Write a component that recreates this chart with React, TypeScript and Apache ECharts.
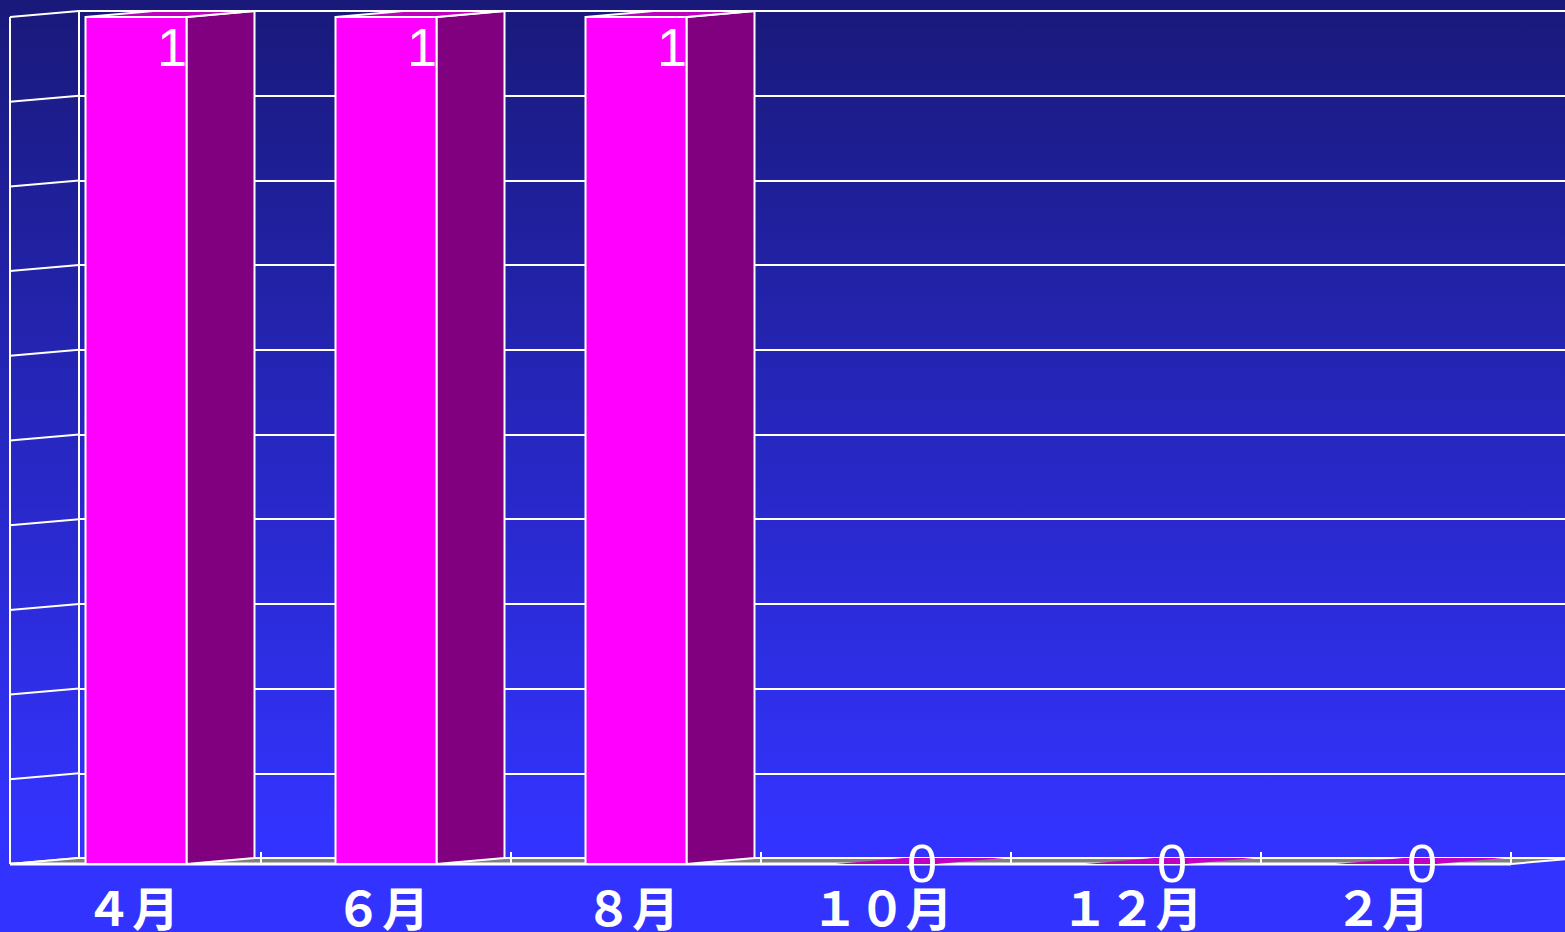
import React, { useEffect, useRef } from "react";
import * as echarts from "echarts";

const CATEGORIES = ["４月", "６月", "８月", "１０月", "１２月", "２月"];
const VALUES = [1, 1, 1, 0, 0, 0];
const Y_TICKS = [0, 0.1, 0.2, 0.3, 0.4, 0.5, 0.6, 0.7, 0.8, 0.9, 1];

const DX = 68;
const DY = -6;
const WHITE = "#ffffff";

export default function App() {
  const ref = useRef<HTMLDivElement>(null);
  useEffect(() => {
    if (!ref.current) return;
    const chart = echarts.init(ref.current, undefined, { renderer: "svg" });
    const option: any = {
      animation: false,
      backgroundColor: "transparent",
      grid: [
        { left: 11, right: 54, top: 17, bottom: 68 },
        { left: 11 + DX, right: 0, top: 17 + DY, bottom: 68 - DY },
      ],
      xAxis: [
        {
          type: "category",
          gridIndex: 0,
          data: CATEGORIES,
          axisLine: { show: false },
          axisTick: { show: false },
          axisLabel: {
            color: WHITE,
            fontSize: 47,
            fontWeight: "bold",
            fontFamily: "'Noto Sans CJK JP', sans-serif",
            margin: 18,
            padding: [0, 8, 0, 0],
          },
        },
        { type: "category", gridIndex: 1, data: CATEGORIES, show: false },
      ],
      yAxis: [
        { type: "value", gridIndex: 0, min: 0, max: 1, interval: 0.1, show: false },
        {
          type: "value",
          gridIndex: 1,
          min: 0,
          max: 1,
          interval: 0.1,
          axisLabel: { show: false },
          axisTick: { show: false },
          axisLine: { show: true, lineStyle: { color: WHITE, width: 2 } },
          splitLine: { show: true, lineStyle: { color: WHITE, width: 2 } },
        },
      ],
      series: [
        {
          type: "custom",
          xAxisIndex: 0,
          yAxisIndex: 0,
          z: 1,
          data: Y_TICKS.map((v) => [0, v]),
          renderItem: (params: any, api: any) => {
            const cs = params.coordSys;
            const y = api.coord([0, api.value(1)])[1];
            const x = cs.x - 1;
            return {
              type: "line",
              shape: { x1: x, y1: y, x2: x + DX + 1, y2: y + DY },
              style: { stroke: WHITE, lineWidth: 2 },
            };
          },
        },
        {
          type: "custom",
          xAxisIndex: 0,
          yAxisIndex: 0,
          z: 2,
          data: [[0, 0]],
          renderItem: (params: any, api: any) => {
            const cs = params.coordSys;
            const x0 = cs.x - 1;
            const xEnd = cs.x + cs.width;
            const yb = api.coord([0, 0])[1];
            const yt = api.coord([0, 1])[1];
            const bw = api.size([1, 0])[0];
            const children: any[] = [
              {
                type: "polygon",
                shape: {
                  points: [
                    [x0, yb],
                    [xEnd, yb],
                    [xEnd + DX, yb + DY],
                    [x0 + DX, yb + DY],
                  ],
                },
                style: { fill: "#808080", stroke: WHITE, lineWidth: 2 },
              },
              {
                type: "line",
                shape: { x1: x0, y1: yb, x2: xEnd, y2: yb },
                style: { stroke: WHITE, lineWidth: 3 },
              },
              {
                type: "line",
                shape: { x1: x0, y1: yt, x2: x0, y2: yb },
                style: { stroke: WHITE, lineWidth: 2 },
              },
            ];
            for (let k = 1; k <= CATEGORIES.length; k++) {
              const x = cs.x + k * bw;
              children.push({
                type: "line",
                shape: { x1: x, y1: yb - 12, x2: x, y2: yb },
                style: { stroke: WHITE, lineWidth: 2 },
              });
            }
            return { type: "group", children };
          },
        },
        {
          type: "custom",
          xAxisIndex: 0,
          yAxisIndex: 0,
          z: 3,
          data: VALUES.map((v, i) => [i, v]),
          renderItem: (params: any, api: any) => {
            const idx = api.value(0);
            const val = api.value(1);
            const top = api.coord([idx, val]);
            const base = api.coord([idx, 0]);
            const bw = api.size([1, 0])[0];
            const w = bw * 0.404;
            const x0 = top[0] - w / 2;
            const x1 = x0 + w;
            const y0 = top[1];
            const yb = base[1];
            const children: any[] = [];
            if (val > 0) {
              children.push({
                type: "polygon",
                shape: {
                  points: [
                    [x1, y0],
                    [x1 + DX, y0 + DY],
                    [x1 + DX, yb + DY],
                    [x1, yb],
                  ],
                },
                style: { fill: "#800080", stroke: WHITE, lineWidth: 2 },
              });
              children.push({
                type: "rect",
                shape: { x: x0, y: y0, width: w, height: yb - y0 },
                style: { fill: "#ff00ff", stroke: WHITE, lineWidth: 2 },
              });
            }
            children.push({
              type: "polygon",
              shape: {
                points: [
                  [x0, y0],
                  [x0 + DX, y0 + DY],
                  [x1 + DX, y0 + DY],
                  [x1, y0],
                ],
              },
              style:
                val > 0
                  ? { fill: "#c000c0", stroke: WHITE, lineWidth: 2 }
                  : { fill: "#c000c0" },
            });
            children.push({
              type: "text",
              style: {
                text: String(val),
                x: (x0 + x1 + DX) / 2 + 2,
                y: val > 0 ? y0 + 30 : yb - 1,
                align: "center",
                verticalAlign: "middle",
                fill: WHITE,
                fontSize: 54,
                fontFamily: "'Liberation Sans', Arial, sans-serif",
              },
            });
            return { type: "group", children };
          },
        },
      ],
    };
    chart.setOption(option);
    return () => chart.dispose();
  }, []);
  return (
    <div
      ref={ref}
      style={{
        position: "fixed",
        left: 0,
        top: 0,
        width: 1565,
        height: 932,
        background: "linear-gradient(to bottom, #19197a 0px, #3333ff 830px, #3333ff 932px)",
      }}
    />
  );
}
